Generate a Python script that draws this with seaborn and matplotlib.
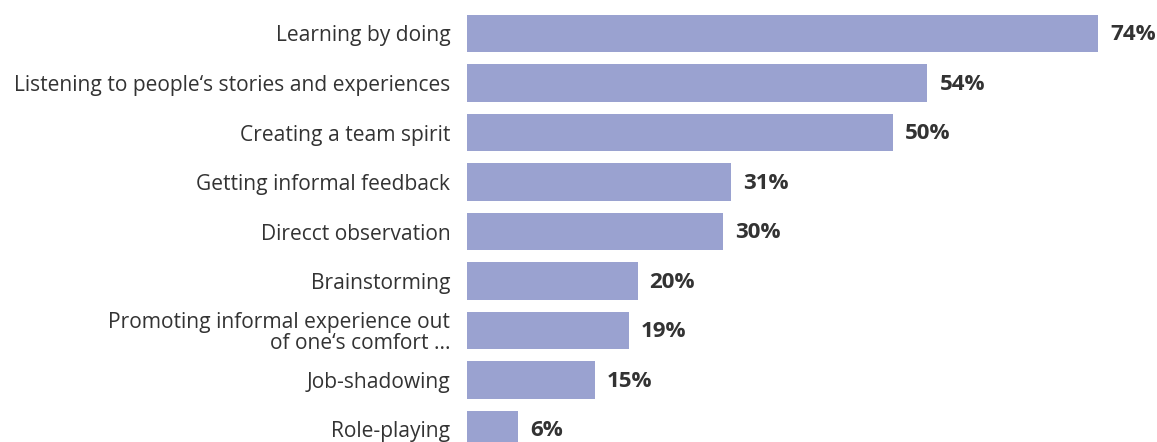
import matplotlib
matplotlib.use("Agg")
import matplotlib.pyplot as plt
import seaborn as sns
import pandas as pd

# Survey answers: ways of learning informally
methods = [
    "Learning by doing",
    "Listening to people\u2018s stories and experiences",
    "Creating a team spirit",
    "Getting informal feedback",
    "Direcct observation",
    "Brainstorming",
    "Promoting informal experience out\nof one\u2018s comfort ...",
    "Job-shadowing",
    "Role-playing",
]
shares = [74, 54, 50, 31, 30, 20, 19, 15, 6]

BAR_COLOR = "#9aa2d0"
TEXT_COLOR = "#333333"

sns.set_theme(style="white")
plt.rcParams["font.family"] = ["Open Sans", "DejaVu Sans"]

df = pd.DataFrame({"method": methods, "share": shares})

fig = plt.figure(figsize=(11.57, 4.42), dpi=100)
ax = fig.add_axes([467 / 1157, 0.0, 690 / 1157, 1.0])

sns.barplot(data=df, x="share", y="method", orient="h", color=BAR_COLOR,
            width=0.75, saturation=1, linewidth=0, ax=ax)

ax.set_xlim(0, 74 * 690 / 631)
ax.set_ylim((442 - 33.5) / 49.5, -33.5 / 49.5)

for patch, val in zip(ax.patches, shares):
    ax.text(patch.get_width() + 74 * 12 / 631,
            patch.get_y() + patch.get_height() / 2 + 0.03,
            f"{val}%", va="center", ha="left", fontsize=16.1,
            fontweight="bold", color=TEXT_COLOR)

ax.set_xlabel("")
ax.set_ylabel("")
ax.set_xticks([])
ax.tick_params(axis="y", length=0, pad=12, labelsize=15.1, labelcolor=TEXT_COLOR)
for lbl in ax.get_yticklabels():
    lbl.set_linespacing(1.0)
sns.despine(ax=ax, left=True, bottom=True)

fig.savefig("out.png", dpi=100)
